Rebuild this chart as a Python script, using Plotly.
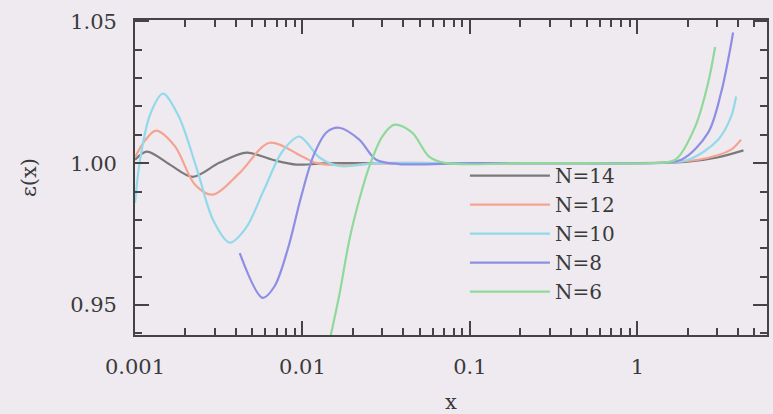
import plotly.graph_objects as go

# ---- data ----
labels = ["N=14", "N=12", "N=10", "N=8", "N=6"]
colors = ["#7a7a7a", "#f4a391", "#92d9ea", "#8e8ee4", "#8fd99a"]

x14 = [0.001, 0.001179, 0.001616, 0.002214, 0.003206, 0.004642, 0.00663, 0.00921, 0.0145, 0.03, 0.1, 0.5, 1.0, 2.0, 3.0, 4.3]
y14 = [1.0012, 1.0041, 0.9995, 0.9952, 1.0002, 1.0037, 1.0012, 0.9995, 1.0, 1.0, 1.0, 1.0, 1.0, 1.0005, 1.002, 1.0045]

x12 = [0.001, 0.001116, 0.001333, 0.00173, 0.002276, 0.00291, 0.00422, 0.00636, 0.01, 0.01212, 0.0178, 0.0286, 0.1, 0.5, 1.0, 2.307, 3.627, 4.159]
y12 = [1.002, 1.007, 1.0115, 1.006, 0.9925, 0.9889, 0.9966, 1.0072, 1.0023, 1.0, 0.9993, 1.0, 1.0, 1.0, 1.0, 1.0012, 1.0048, 1.0083]

x10 = [0.001, 0.001071, 0.001228, 0.001468, 0.00182, 0.00234, 0.00293, 0.003678, 0.0046, 0.0059, 0.0076, 0.0096, 0.01262, 0.0166, 0.028, 0.1, 0.5, 1.0, 2.012, 3.034, 3.627, 3.884]
y10 = [0.986, 1.001, 1.017, 1.0245, 1.0166, 0.998, 0.9799, 0.972, 0.9772, 0.9907, 1.0042, 1.0094, 1.002, 0.999, 1.0, 1.0, 1.0, 1.0, 1.0012, 1.0083, 1.0164, 1.0235]

x8 = [0.00422, 0.00578, 0.0068, 0.0082, 0.0098, 0.0117, 0.014, 0.0166, 0.02183, 0.02757, 0.0378, 0.1, 0.5, 1.0, 1.828, 2.646, 3.162, 3.578, 3.728]
y8 = [0.9683, 0.9525, 0.9565, 0.9700, 0.9880, 1.0030, 1.0110, 1.0125, 1.0083, 1.0012, 0.9997, 1.0, 1.0, 1.0, 1.0012, 1.0108, 1.0249, 1.0401, 1.0461]

x6 = [0.01262, 0.01468, 0.0166, 0.01905, 0.02183, 0.02506, 0.02994, 0.0355, 0.0452, 0.05703, 0.0719, 0.2, 0.5, 1.16, 1.684, 2.214, 2.646, 2.912]
y6 = [0.921, 0.9387, 0.9535, 0.9729, 0.9871, 0.9988, 1.0094, 1.0136, 1.0108, 1.0023, 1.0, 1.0, 1.0, 1.0, 1.0012, 1.0129, 1.0284, 1.041]

xs = [x14, x12, x10, x8, x6]
ys = [y14, y12, y10, y8, y6]

xtick_vals = [0.001, 0.01, 0.1, 1]
xtick_text = ["0.001", "0.01", "0.1", "1"]
ytick_vals = [0.95, 1.00, 1.05]
ytick_text = ["0.95", "1.00", "1.05"]

X_RANGE = [-3, 0.774]
Y_RANGE = [0.9394, 1.0505]

BG = "#eeeaf0"
AX = "#444444"
FONT = "DejaVu Serif"

fig = go.Figure()
for name, c, xv, yv in zip(labels, colors, xs, ys):
    fig.add_trace(go.Scatter(x=xv, y=yv, mode="lines", name=name,
                             line=dict(color=c, width=2.2, shape="spline", smoothing=0.9)))

fig.update_layout(
    width=773, height=414,
    margin=dict(l=135, r=6, t=20, b=79, autoexpand=False),
    paper_bgcolor=BG, plot_bgcolor=BG,
    font=dict(family=FONT, size=21, color="#3a3a3a"),
    showlegend=True,
    legend=dict(x=0.522, y=0.568, xanchor="left", yanchor="top",
                bgcolor="rgba(0,0,0,0)", font=dict(size=20, family=FONT),
                itemwidth=80, tracegroupgap=0),
)

fig.update_xaxes(
    type="log", range=X_RANGE, tickvals=xtick_vals, ticktext=xtick_text, automargin=False,
    ticks="inside", ticklen=14, tickwidth=2, tickcolor=AX,
    showline=True, linecolor=AX, linewidth=1.8, mirror="allticks",
    showgrid=False, zeroline=False, ticklabelstandoff=12,
    minor=dict(ticks="inside", ticklen=7, tickwidth=1.6, tickcolor=AX, dtick="D1", showgrid=False),
    title=dict(text="x", font=dict(size=21), standoff=16),
)
fig.update_yaxes(
    range=Y_RANGE, tickvals=ytick_vals, ticktext=ytick_text, automargin=False,
    ticks="inside", ticklen=14, tickwidth=2, tickcolor=AX,
    showline=True, linecolor=AX, linewidth=1.8, mirror="allticks",
    showgrid=False, zeroline=False, ticklabelstandoff=12,
    minor=dict(ticks="inside", ticklen=7, tickwidth=1.6, tickcolor=AX, dtick=0.01, tick0=0.95, showgrid=False),
    title=dict(text="ε(x)", font=dict(size=21), standoff=28),
)

fig.write_html("out.html")
